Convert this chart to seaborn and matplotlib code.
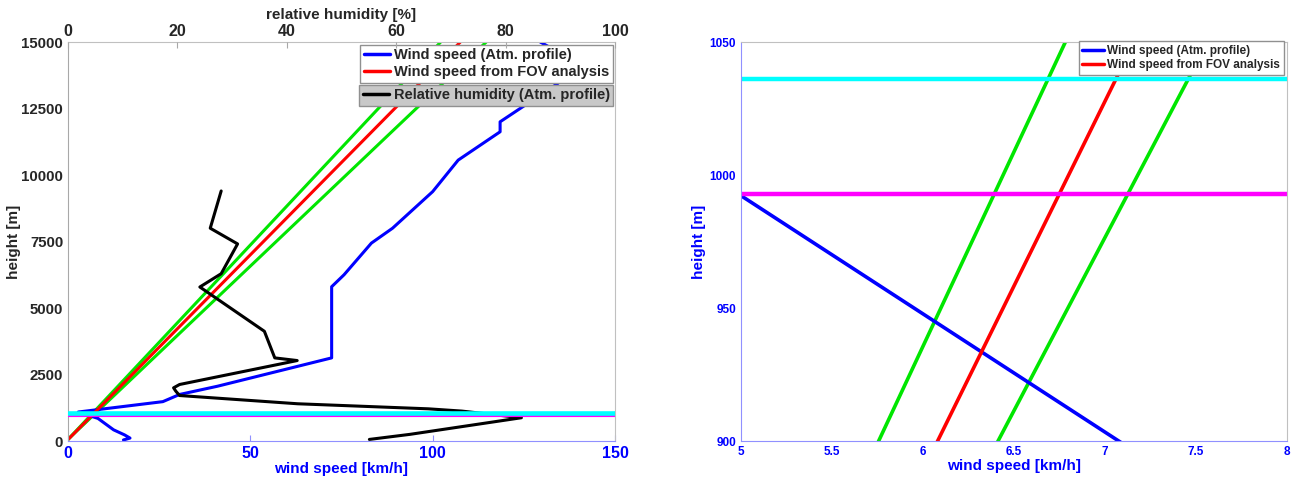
import numpy as np
import pandas as pd
import seaborn as sns
import matplotlib.pyplot as plt

# --- data ---
# wind speed profile (atmospheric sounding)
ws_height = [40, 110, 230, 420, 850, 1090, 1480, 1750, 2060, 3125, 5800, 6250,
             7440, 8000, 9375, 10560, 11625, 12000, 13450, 14600, 15000]
ws_speed = [15.2, 17.0, 15.5, 12.5, 8.2, 2.8, 26.0, 30.6, 41.0, 72.3, 72.3, 75.7,
            83.2, 89.0, 100.0, 107.0, 118.5, 118.5, 134.4, 134.8, 129.5]

# relative humidity profile
rh_height = [60, 250, 875, 1125, 1210, 1400, 1710, 1875, 2000, 2125, 3025, 3125,
             4125, 5790, 6290, 7410, 8000, 9400]
rh_value = [55.1, 62.5, 82.9, 72.0, 65.9, 42.0, 20.4, 19.7, 19.3, 20.4, 41.9, 37.8,
            35.9, 24.1, 28.0, 31.0, 26.0, 28.0]

# wind speed from FOV analysis (with lower / upper bounds)
fov_height = [0, 15000]
fov_speed = [-0.4, 107.6]
fov_low = [-0.4, 102.2]
fov_high = [-0.5, 114.7]

cyan_level = 1036
magenta_level = 993

sns.set_style("white")
plt.rcParams['font.family'] = ['Liberation Sans', 'DejaVu Sans']
plt.rcParams['font.weight'] = 'bold'
plt.rcParams['axes.labelweight'] = 'bold'

BLUE = '#0000ff'
GRAY = '#a8a8a8'
LBLUE = '#9090ff'

fig = plt.figure(figsize=(12.96, 4.79), dpi=100)
ax1 = fig.add_axes([0.0525, 0.0793, 0.4220, 0.8330])
ax3 = fig.add_axes([0.5718, 0.0793, 0.4213, 0.8330])

ws = pd.DataFrame({'speed': ws_speed, 'height': ws_height})
rh = pd.DataFrame({'rh': rh_value, 'height': rh_height})
fov = pd.DataFrame({'height': fov_height, 'mid': fov_speed, 'low': fov_low, 'high': fov_high})


def draw_wind(ax, lw):
    sns.lineplot(data=fov, x='low', y='height', color='#00e600', lw=lw, sort=False, estimator=None, ax=ax)
    sns.lineplot(data=fov, x='high', y='height', color='#00e600', lw=lw, sort=False, estimator=None, ax=ax)
    l1, = ax.plot([], [], color=BLUE, lw=2.5, label='Wind speed (Atm. profile)')
    sns.lineplot(data=ws, x='speed', y='height', color=BLUE, lw=lw, sort=False, estimator=None, ax=ax)
    l2, = ax.plot([], [], color='#ff0000', lw=2.5, label='Wind speed from FOV analysis')
    sns.lineplot(data=fov, x='mid', y='height', color='#ff0000', lw=lw, sort=False, estimator=None, ax=ax)
    return [l1, l2]


def style_axes(ax, left, bottom):
    for s in ax.spines.values():
        s.set_color('#c0c0c0')
        s.set_linewidth(0.8)
    ax.spines['left'].set_color(left)
    ax.spines['bottom'].set_color(bottom)
    ax.tick_params(direction='in', length=4)
    ax.tick_params(axis='x', color=bottom)
    ax.tick_params(axis='y', color=left)


# ---------- left panel ----------
handles = draw_wind(ax1, 2.2)
ax1.set_xlim(0, 150)
ax1.set_ylim(0, 15000)
ax1.set_xticks([0, 50, 100, 150])
ax1.set_yticks(np.arange(0, 15001, 2500))
ax1.set_xlabel('wind speed [km/h]', color=BLUE, fontsize=11, labelpad=1)
ax1.set_ylabel('height [m]', fontsize=11)
ax1.yaxis.set_label_coords(-0.086, 0.5)
ax1.tick_params(axis='x', labelcolor=BLUE, labelsize=11.5)
ax1.tick_params(axis='y', labelsize=10.8)
style_axes(ax1, GRAY, LBLUE)
leg1 = ax1.legend(handles=handles, loc='upper right', bbox_to_anchor=(0.997, 0.993),
                  fontsize=10.5, frameon=True, fancybox=False, framealpha=1,
                  edgecolor='#909090', handlelength=1.8, handletextpad=0.3,
                  borderpad=0.25, labelspacing=0.2, borderaxespad=0)

ax2 = ax1.twiny()
sns.lineplot(data=rh, x='rh', y='height', color='black', lw=2.2, sort=False, estimator=None, ax=ax2)
ax2.axhline(magenta_level, color='#ff00ff', lw=3)
ax2.axhline(cyan_level, color='#00ffff', lw=3.3)
ax2.set_xlim(0, 100)
ax2.set_xticks(np.arange(0, 101, 20))
ax2.set_xlabel('relative humidity [%]', fontsize=11, labelpad=4)
ax2.tick_params(axis='x', labelsize=11.5, pad=2)
for s in ax2.spines.values():
    s.set_visible(False)
ax2.tick_params(axis='x', direction='in', length=4, color=GRAY)
h3, = ax2.plot([], [], color='black', lw=2.5, label='Relative humidity (Atm. profile)')
ax2.legend(handles=[h3], loc='upper right', bbox_to_anchor=(0.997, 0.893),
           fontsize=10.5, frameon=True, fancybox=False, framealpha=1,
           facecolor='#c8c8c8', edgecolor='#909090', handlelength=1.8,
           handletextpad=0.3, borderpad=0.25, borderaxespad=0)

# ---------- right panel (zoom) ----------
handles_r = draw_wind(ax3, 2.6)
ax3.axhline(magenta_level, color='#ff00ff', lw=3.2)
ax3.axhline(cyan_level, color='#00ffff', lw=3.2)
ax3.set_xlim(5, 8)
ax3.set_ylim(900, 1050)
ax3.set_xticks(np.arange(5, 8.01, 0.5))
ax3.set_xticklabels(['5', '5.5', '6', '6.5', '7', '7.5', '8'])
ax3.set_yticks([900, 950, 1000, 1050])
ax3.set_xlabel('wind speed [km/h]', color=BLUE, fontsize=11, labelpad=1)
ax3.set_ylabel('height [m]', color=BLUE, fontsize=11)
ax3.yaxis.set_label_coords(-0.064, 0.5)
style_axes(ax3, LBLUE, LBLUE)
ax3.tick_params(labelcolor=BLUE, labelsize=8.5)
ax3.legend(handles=handles_r, loc='upper right', bbox_to_anchor=(0.9936, 1.002),
           fontsize=8.5, frameon=True, fancybox=False, framealpha=1,
           edgecolor='#909090', handlelength=1.8, handletextpad=0.3,
           borderpad=0.3, labelspacing=0.2, borderaxespad=0)

fig.savefig('out.png', dpi=100)
